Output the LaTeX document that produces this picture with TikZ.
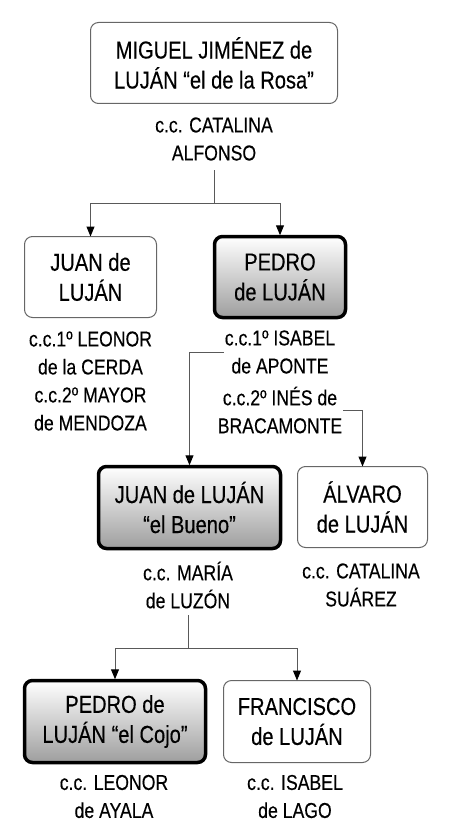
\documentclass[tikz,border=0pt]{standalone}
\usepackage{fontspec}
\setmainfont[FakeStretch=0.82,FakeBold=0.3]{Liberation Sans}
\usetikzlibrary{arrows.meta}
\begin{document}
\begin{tikzpicture}[x=1pt,y=-1pt,
  person/.style={draw=black!60, line width=1pt, rounded corners=8pt, align=center,
    font=\fontsize{24.5}{30}\selectfont, inner sep=0pt},
  mainline/.style={draw=black, line width=3.5pt, rounded corners=8pt, align=center,
    top color=white, bottom color=black!38, font=\fontsize{24.5}{30}\selectfont, inner sep=0pt},
  spouse/.style={align=center, font=\fontsize{21.5}{28}\selectfont, inner sep=1pt},
  conn/.style={draw=black!65, line width=1pt},
  arr/.style={conn, -{Triangle[length=10pt,width=8pt,color=black]}, shorten >=-0.5pt}
]
\useasboundingbox (0,0) rectangle (451,840);

% generation 1
\node[person, minimum width=247pt, minimum height=81pt] (miguel) at (214,63) {MIGUEL JIMÉNEZ de\\LUJÁN “el de la Rosa”};
\node[spouse] (s1) at (214,139) {c.c. CATALINA\\ALFONSO};

% generation 2
\node[person, minimum width=132pt, minimum height=81pt] (juan1) at (90.5,277) {JUAN de\\LUJÁN};
\node[mainline, minimum width=131pt, minimum height=81pt] (pedro1) at (280,277) {PEDRO\\de LUJÁN};
\node[spouse] (s2) at (90.5,381) {c.c.1º LEONOR\\de la CERDA\\c.c.2º MAYOR\\de MENDOZA};
\node[spouse] (isa) at (280,352) {c.c.1º ISABEL\\de APONTE};
\node[spouse] (ines) at (280,410) {c.c.2º INÉS de\\BRACAMONTE};

% generation 3
\node[mainline, minimum width=182pt, minimum height=82pt] (juan2) at (189.5,507.5) {JUAN de LUJÁN\\“el Bueno”};
\node[person, minimum width=130pt, minimum height=81pt] (alvaro) at (362.5,507) {ÁLVARO\\de LUJÁN};
\node[spouse] (s3) at (188,585) {c.c. MARÍA\\de LUZÓN};
\node[spouse] (s4) at (361,585) {c.c. CATALINA\\SUÁREZ};

% generation 4
\node[mainline, minimum width=181pt, minimum height=82pt] (pedro3) at (115,721.5) {PEDRO de\\LUJÁN “el Cojo”};
\node[person, minimum width=147pt, minimum height=82pt] (fran) at (297,721.5) {FRANCISCO\\de LUJÁN};
\node[spouse] (s5) at (114,796.5) {c.c. LEONOR\\de AYALA};
\node[spouse] (s6) at (295,796.5) {c.c. ISABEL\\de LAGO};

% connectors
\coordinate (t1) at (214,170);
\coordinate (j1) at (214,203);
\draw[conn] (t1) -- (j1);
\draw[arr] (j1) -| (juan1.north);
\draw[arr] (j1) -| (pedro1.north);

\draw[arr] (isa.west) -| (juan2.north);
\draw[arr] (ines.east) -| (alvaro.north);

\coordinate (t3) at (188,615);
\coordinate (j3) at (188,648);
\draw[conn] (t3) -- (j3);
\draw[arr] (j3) -| (pedro3.north);
\draw[arr] (j3) -| (fran.north);
\end{tikzpicture}
\end{document}
